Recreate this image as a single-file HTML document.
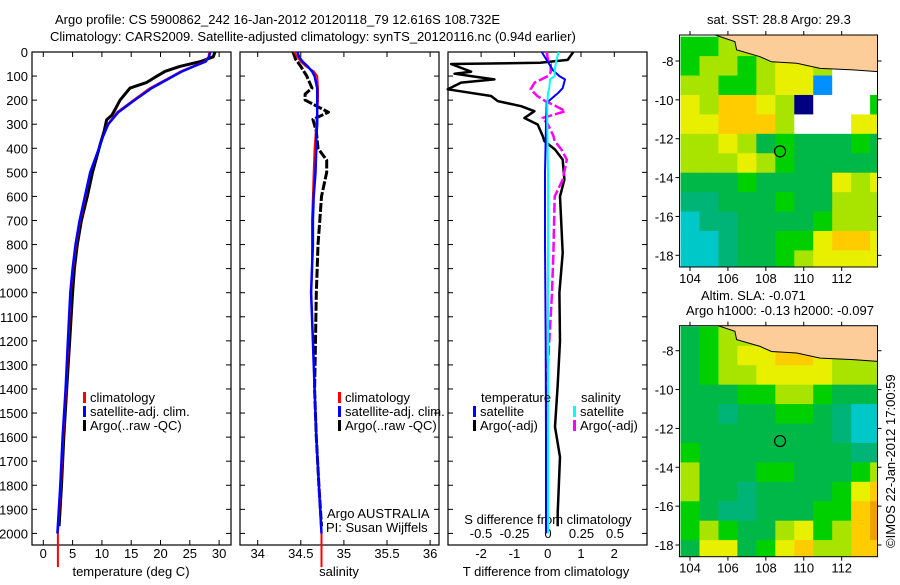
<!DOCTYPE html>
<html><head><meta charset="utf-8">
<style>
body{margin:0;background:#fff}
svg text{font-family:"Liberation Sans",sans-serif;font-size:13px;fill:#000}
</style></head>
<body>
<svg id="fig" width="900" height="580" viewBox="0 0 900 580" xmlns="http://www.w3.org/2000/svg">
<text x="55" y="24" font-size="14">Argo profile: CS 5900862_242 16-Jan-2012 20120118_79 12.616S 108.732E</text>
<text x="50" y="41" font-size="14">Climatology: CARS2009. Satellite-adjusted climatology: synTS_20120116.nc (0.94d earlier)</text>
<text x="707" y="24">sat. SST: 28.8 Argo: 29.3</text>
<text x="701" y="300">Altim. SLA: -0.071</text>
<text x="686" y="315">Argo h1000: -0.13 h2000: -0.097</text>
<text transform="translate(895,548) rotate(-90)">©IMOS 22-Jan-2012 17:00:59</text>
<g id="plots"></g>
</svg>
<script>
// ---- profile data ----
const tDepth = [0,20,40,60,80,100,127,150,200,241,262,282,328,385,500,600,700,800,900,1000,1200,1400,1600,1800,1970];
const tArgo  = [29.3,29.0,26.8,23.3,20.8,19.4,17.6,14.8,13.1,12.2,11.7,10.8,10.4,9.7,8.4,7.5,6.5,5.8,5.3,5.0,4.5,4.0,3.5,3.1,2.7];
const cDepth = [0,20,40,60,80,100,150,200,250,300,350,400,500,600,700,800,900,1000,1200,1400,1600,1800,2000,2140];
const tClim  = [28.3,28.2,27.5,25.5,23.5,22.0,18.2,15.4,12.6,11.0,10.2,9.5,8.0,7.2,6.3,5.6,5.1,4.7,4.3,3.9,3.4,3.0,2.5,2.5];
const tSat   = [28.5,28.3,27.7,25.7,23.7,22.2,18.5,15.6,12.8,11.1,10.2,9.5,8.0,7.1,6.2,5.5,5.0,4.6,4.2,3.8,3.3,2.9,2.4,2.4];
const sArgo  = [34.41,34.44,34.5,34.57,34.63,34.55,34.55,34.82,34.64,34.68,34.7,34.8,34.8,34.74,34.72,34.7,34.69,34.68,34.67,34.66,34.68,34.71,34.74];
const sArgoDepth = [0,30,60,100,150,175,200,250,280,330,400,450,500,600,700,800,900,1000,1200,1400,1600,1800,1970];
const sClim  = [34.42,34.46,34.5,34.56,34.65,34.69,34.7,34.7,34.69,34.68,34.67,34.66,34.65,34.64,34.63,34.63,34.63,34.62,34.64,34.66,34.68,34.71,34.74,34.74];
const sSat   = [34.46,34.48,34.52,34.58,34.63,34.66,34.69,34.69,34.69,34.69,34.68,34.68,34.67,34.65,34.64,34.64,34.63,34.62,34.64,34.66,34.68,34.71,34.74,34.74];
const dDepth = [0,33,45,50,82,90,100,114,127,155,183,204,225,246,274,301,349,370,405,447,530,600,835,1000,1200,1383,1557,1683,1915,1970];
const dTArgo = [0.77,0.6,-0.23,-2.9,-2.3,-2.8,-2.3,-1.6,-2.6,-3.0,-1.7,-1.5,-0.8,-0.4,-0.7,-0.3,-0.15,-0.1,0.22,0.45,0.5,0.37,0.45,0.35,0.37,0.3,0.22,0.37,0.3,0.3];
const dSArgo = [-0.01,0.0,0.01,0.02,0.02,0.015,0.0,-0.05,-0.1,-0.13,-0.08,-0.02,0.06,0.13,-0.04,0.0,0.04,0.05,0.1,0.14,0.11,0.05,0.04,0.03,0.01,-0.01,-0.01,-0.01,-0.01,-0.01];
const sdDepth = [0,40,76,100,114,150,169,211,300,500,800,1200,1600,2000];
const dTSat  = [-0.18,0.0,0.16,0.35,0.52,0.45,0.32,-0.03,-0.05,-0.08,-0.08,-0.06,-0.05,-0.05];
const dSSat  = [0.08,0.06,0.05,0.05,0.015,0.01,0.0,-0.005,-0.005,0.0,0.0,0.0,0.0,0.0];
const depthTicks = [0,100,200,300,400,500,600,700,800,900,1000,1100,1200,1300,1400,1500,1600,1700,1800,1900,2000];
const tTicks = [0,5,10,15,20,25,30];
const sTicks = [34,34.5,35,35.5,36];
const sTickLabels = ["34","34.5","35","35.5","36"];
const dtTicks = [-2,-1,0,1,2];
const dsTicks = [-0.5,-0.25,0,0.25,0.5];
const dsTickLabels = ["-0.5","-0.25","0","0.25","0.5"];
// ---- map data (1 degree cells, lon edges from 103.5, lat from -6.8 downward) ----
const lonTicks = [104,106,108,110,112];
const latTicks = [-8,-10,-12,-14,-16,-18];
const sstGrid = [
"55666767666","56656776WWW","66556771WWW","7688760WWW5","778886WWW77",
"66764544454","66676544444","44454444767","33444544666","23344445666",
"22344557887","22344567777"];
const slaGrid = [
"45666666666","45677887666","45667777666","44455665444","44344554322",
"44444444322","54444444433","64445544456","64434444578","54334445589",
"56544675689","47745786688"];
const coastLon = [103.4,105.14,106.37,106.46,107.69,108.3,109.63,110.86,112.6,113.9,113.9,103.4];
const coastLat = [-6.6,-6.6,-7.0,-7.43,-7.78,-8.04,-8.12,-8.38,-8.46,-8.55,-6.6,-6.6];
const argoLon = 108.75, argoLat = -12.65;

const NS="http://www.w3.org/2000/svg";
const root=document.getElementById('plots');
function el(tag,attrs,parent){const e=document.createElementNS(NS,tag);for(const k in attrs)e.setAttribute(k,attrs[k]);(parent||root).appendChild(e);return e;}
function txt(x,y,s,anchor,parent){const t=el('text',{x:x,y:y,'text-anchor':anchor||'start'},parent);t.textContent=s;return t;}
const yD = d => 52 + d*0.2407;
const PT=52, PB=545;
function frame(x0,x1,name){const r=el('rect',{x:x0,y:PT,width:x1-x0,height:PB-PT,fill:'none',stroke:'#000','stroke-width':1.2});


depthTicks.forEach(d=>{el('line',{x1:x0,x2:x0+5,y1:yD(d),y2:yD(d),stroke:'#000'});el('line',{x1:x1,x2:x1-5,y1:yD(d),y2:yD(d),stroke:'#000'});});}
function poly(xs,ys,color,w,name,dash){const p=xs.map((x,i)=>x.toFixed(1)+','+ys[i].toFixed(1)).join(' ');
const l=el('polyline',{points:p,fill:'none',stroke:color,'stroke-width':w,'stroke-linejoin':'round'});
if(dash)l.setAttribute('stroke-dasharray',dash);

}
function legendItem(x,y,color,label,name){el('rect',{x:x,y:y-10,width:3,height:11,fill:color});const t=txt(x+7,y,label);

}

// Panel 1: temperature
const xT = v => 43.3 + v*5.86;
frame(32,231,'temperature-panel');
depthTicks.forEach(d=>{const t=txt(28,yD(d)+5,String(d),'end');

});
tTicks.forEach(v=>{el('line',{x1:xT(v),x2:xT(v),y1:PB,y2:PB-5,stroke:'#000'});el('line',{x1:xT(v),x2:xT(v),y1:PT,y2:PT+5,stroke:'#000'});
const t=txt(xT(v),558,String(v),'middle');

});
txt(131,576,'temperature (deg C)','middle');
poly(tArgo.map(xT),tDepth.map(yD),'#000',3,'temperature-argo-line');
poly(tClim.map(xT),cDepth.map(yD),'#f00',2,'temperature-climatology-line');
poly(tSat.slice(0,23).map(xT),cDepth.slice(0,23).map(yD),'#00f',2.5,'temperature-satellite-line');
legendItem(83,402,'#f00','climatology','legend-climatology');
legendItem(83,416,'#00f','satellite-adj. clim.','legend-satellite');
legendItem(83,430,'#000','Argo(..raw -QC)','legend-argo');

// Panel 2: salinity
const xS = v => 257.7 + (v-34)*86.2;
frame(240,439,'salinity-panel');
sTicks.forEach((v,i)=>{el('line',{x1:xS(v),x2:xS(v),y1:PB,y2:PB-5,stroke:'#000'});el('line',{x1:xS(v),x2:xS(v),y1:PT,y2:PT+5,stroke:'#000'});
const t=txt(xS(v),558,sTickLabels[i],'middle');

});
txt(339,576,'salinity','middle');
poly(sArgo.map(xS),sArgoDepth.map(yD),'#000',3,'salinity-argo-line','9,2');
poly(sClim.map(xS),cDepth.map(yD),'#f00',2,'salinity-climatology-line');
poly(sSat.slice(0,23).map(xS),cDepth.slice(0,23).map(yD),'#00f',2.5,'salinity-satellite-line');
legendItem(338,402,'#f00','climatology','legend-climatology-2');
legendItem(338,416,'#00f','satellite-adj. clim.','legend-satellite-2');
legendItem(338,430,'#000','Argo(..raw -QC)','legend-argo-2');
txt(327,518,'Argo AUSTRALIA');
txt(326,532,'PI: Susan Wijffels');

// Panel 3: differences
const xDT = v => 547.7 + v*33.3;
const xDS = v => 548 + v*134;
frame(448,647,'difference-panel');
dtTicks.forEach(v=>{el('line',{x1:xDT(v),x2:xDT(v),y1:PT,y2:PT+5,stroke:'#000'});
const t=txt(xDT(v),558,String(v),'middle');

});
dsTicks.forEach((v,i)=>{const t=txt(xDS(v),538,dsTickLabels[i],'middle');

});
txt(548,524,'S difference from climatology','middle');
txt(546,576,'T difference from climatology','middle');
poly(dTArgo.map(xDT),dDepth.map(yD),'#000',2.5,'t-diff-argo-line');
poly(dSArgo.map(xDS),dDepth.map(yD),'#f0f',2.5,'s-diff-argo-line','10,3');
poly(dTSat.map(xDT),sdDepth.map(yD),'#00f',2,'t-diff-satellite-line');
poly(dSSat.map(xDS),sdDepth.map(yD),'#0ff',2,'s-diff-satellite-line');
txt(481,402,'temperature');
legendItem(473,416,'#00f','satellite','legend-t-satellite');
legendItem(473,430,'#000','Argo(-adj)','legend-t-argo');
txt(581,402,'salinity');
legendItem(573,416,'#0ff','satellite','legend-s-satellite');
legendItem(573,430,'#f0f','Argo(-adj)','legend-s-argo');

// Maps
const palette = {'0':'#000080','1':'#0090ff','2':'#00c8c8','3':'#00b478','4':'#00b848','5':'#00d000','6':'#a8e400','7':'#e8f000','8':'#ffcc00','9':'#f0a000','W':'#ffffff'};
function map(top,bottom,grid,name,latRef){
 const L=679.5,R=877.5;
 const xL = lon => 690 + (lon-104)*18.96;
 const yL = lat => latRef - (lat+8)*19.43;
 const g=el('g',{});
 
 
 const cid='clip'+name;
 const cp=el('clipPath',{id:cid},g);el('rect',{x:L,y:top,width:R-L,height:bottom-top},cp);
 const inner=el('g',{'clip-path':'url(#'+cid+')'},g);
 grid.forEach((row,r)=>{for(let c=0;c<row.length;c++){
   const lon0=103.5+c, lat0=-6.8-r;
   const cell=el('rect',{x:xL(lon0),y:yL(lat0)-1,width:19.5,height:20,fill:palette[row[c]]},inner);
   
   
 }});
 const pts=coastLon.map((lo,i)=>xL(lo).toFixed(1)+','+yL(coastLat[i]).toFixed(1)).join(' ');
 const land=el('polygon',{points:pts,fill:'#fccc99',stroke:'#000','stroke-width':1},inner);
 
 
 const c=el('circle',{cx:xL(argoLon),cy:yL(argoLat),r:5.5,fill:'none',stroke:'#000','stroke-width':1.2},inner);
 
 
 el('rect',{x:L,y:top,width:R-L,height:bottom-top,fill:'none',stroke:'#000','stroke-width':1},g);
 lonTicks.forEach(v=>{el('line',{x1:xL(v),x2:xL(v),y1:top,y2:top-4,stroke:'#000'},g);el('line',{x1:xL(v),x2:xL(v),y1:bottom,y2:bottom+4,stroke:'#000'},g);
  const t=txt(xL(v),bottom+16,String(v),'middle',g);
  
  });
 latTicks.forEach(v=>{el('line',{x1:L,x2:L-4,y1:yL(v),y2:yL(v),stroke:'#000'},g);el('line',{x1:R,x2:R+4,y1:yL(v),y2:yL(v),stroke:'#000'},g);
  const t=txt(L-6,yL(v)+5,String(v),'end',g);
  
  });
}
map(35,267,sstGrid,'sst-map',61);
map(325.7,556.7,slaGrid,'sla-map',350.7);
</script>
</body></html>
